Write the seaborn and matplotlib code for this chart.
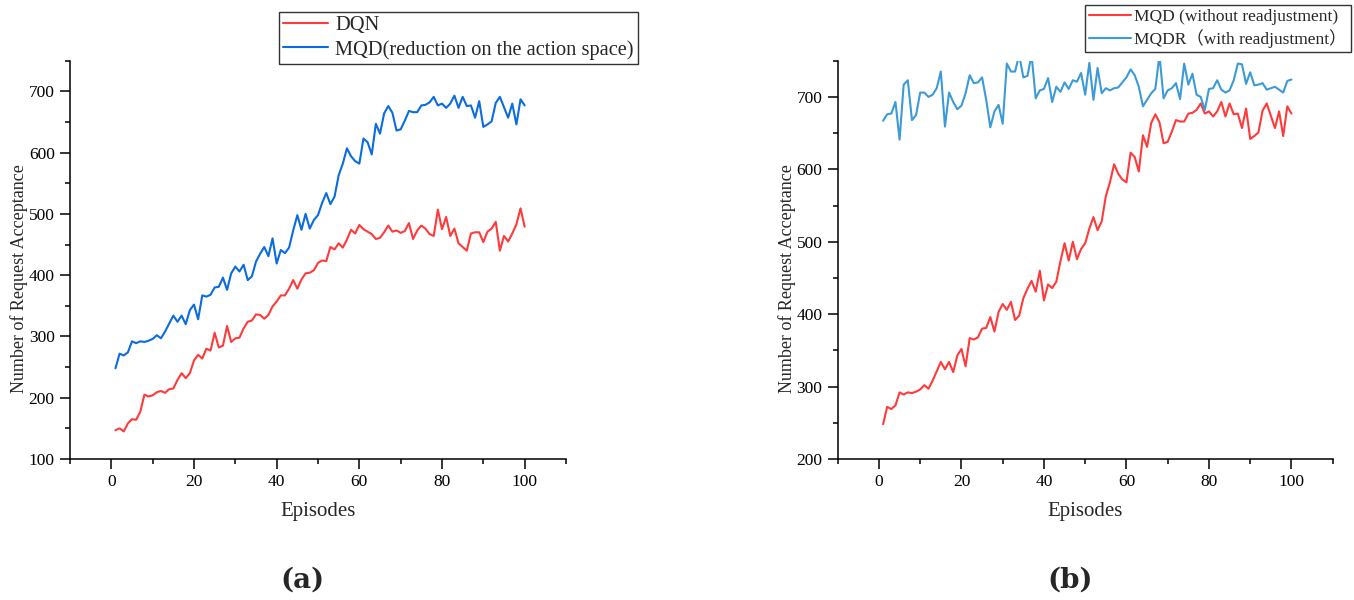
import numpy as np
import pandas as pd
import matplotlib
matplotlib.use("Agg")
import matplotlib.pyplot as plt
from matplotlib.ticker import MultipleLocator
import seaborn as sns

# ---------------- data ----------------
episodes = list(range(1, 101))

dqn = [147, 150, 145, 158, 165, 164, 177, 205, 202, 204,
       209, 211, 208, 214, 215, 229, 240, 232, 240, 261,
       270, 264, 280, 277, 306, 282, 285, 317, 291, 297,
       298, 313, 324, 326, 336, 335, 329, 335, 349, 357,
       367, 367, 378, 392, 378, 393, 403, 404, 408, 420,
       424, 423, 446, 442, 452, 445, 458, 474, 468, 482,
       475, 471, 467, 459, 461, 470, 481, 471, 473, 469,
       472, 485, 459, 473, 481, 476, 467, 464, 507, 475,
       495, 464, 476, 452, 446, 440, 468, 470, 470, 454,
       471, 476, 487, 440, 464, 455, 468, 483, 509, 479]

mqd = [248, 272, 269, 274, 292, 289, 292, 291, 293, 296,
       302, 297, 308, 321, 334, 324, 334, 320, 343, 352,
       328, 367, 365, 368, 380, 381, 396, 376, 403, 414,
       406, 417, 392, 398, 422, 435, 446, 431, 460, 419,
       441, 436, 445, 473, 498, 474, 500, 476, 490, 498,
       518, 534, 516, 528, 563, 582, 607, 594, 586, 582,
       623, 617, 597, 647, 631, 664, 676, 665, 636, 638,
       652, 668, 666, 666, 677, 678, 682, 691, 677, 680,
       673, 680, 693, 673, 691, 676, 677, 657, 684, 642,
       646, 651, 681, 691, 674, 657, 680, 646, 687, 677]

mqdr = [667, 676, 677, 693, 641, 717, 723, 668, 675, 706,
        706, 700, 703, 712, 735, 659, 706, 693, 683, 688,
        705, 730, 719, 720, 727, 696, 658, 680, 689, 663,
        746, 735, 735, 758, 727, 729, 758, 698, 709, 711,
        726, 693, 714, 707, 720, 711, 723, 721, 733, 703,
        747, 696, 740, 705, 712, 709, 712, 713, 720, 727,
        738, 730, 714, 687, 696, 705, 711, 758, 698, 709,
        712, 719, 697, 746, 717, 732, 703, 700, 682, 711,
        712, 723, 710, 706, 709, 723, 746, 745, 718, 734,
        716, 717, 719, 710, 712, 714, 710, 706, 722, 724]

labels_a = ["DQN", "MQD(reduction on the action space)"]
labels_b = ["MQD (without readjustment)", "MQDR\uff08with readjustment\uff09"]
xlabel = "Episodes"
ylabel = "Number of Request Acceptance"
panel_labels = ["(a)", "(b)"]

RED = "#FF3A3A"
BLUE_A = "#0A6CDE"
BLUE_B = "#3C9BD6"

# ---------------- style ----------------
sns.set_theme(style="ticks")
plt.rcParams["font.family"] = ["Liberation Serif", "Noto Sans CJK SC", "DejaVu Sans"]
plt.rcParams["axes.linewidth"] = 1.1
for k in ("xtick.major.width", "ytick.major.width", "xtick.minor.width", "ytick.minor.width"):
    plt.rcParams[k] = 1.1
plt.rcParams["xtick.color"] = "black"
plt.rcParams["ytick.color"] = "black"
plt.rcParams["axes.edgecolor"] = "black"

W, H = 1354, 600
fig = plt.figure(figsize=(W / 100, H / 100), dpi=100)

def frac_axes(x0, x1, ytop, ybot):
    return fig.add_axes([x0 / W, 1 - ybot / H, (x1 - x0) / W, (ybot - ytop) / H])

ax1 = frac_axes(70, 566, 60.7, 459)
ax2 = frac_axes(837.7, 1332.7, 60.7, 459)

dfa = pd.DataFrame({"Episode": episodes * 2,
                    "Value": dqn + mqd,
                    "Method": [labels_a[0]] * 100 + [labels_a[1]] * 100})
dfb = pd.DataFrame({"Episode": episodes * 2,
                    "Value": mqd + mqdr,
                    "Method": [labels_b[0]] * 100 + [labels_b[1]] * 100})

sns.lineplot(data=dfa, x="Episode", y="Value", hue="Method",
             palette=[RED, BLUE_A], linewidth=1.5, ax=ax1)
sns.lineplot(data=dfb, x="Episode", y="Value", hue="Method",
             palette=[RED, BLUE_B], linewidth=1.5, ax=ax2)

for ax, ylo in ((ax1, 100), (ax2, 200)):
    ax.set_xlim(-10, 110)
    ax.set_ylim(ylo, 750)
    ax.xaxis.set_major_locator(MultipleLocator(20))
    ax.xaxis.set_minor_locator(MultipleLocator(10))
    ax.yaxis.set_major_locator(MultipleLocator(100))
    ax.yaxis.set_minor_locator(MultipleLocator(50))
    ax.set_yticks([t for t in range(ylo, 701, 100)])
    ax.tick_params(which="major", direction="out", length=7, labelsize=12.5, pad=4)
    ax.tick_params(which="minor", direction="out", length=3.5)
    sns.despine(ax=ax)
    ax.set_xlabel(xlabel, fontsize=15)
    ax.set_ylabel(ylabel, fontsize=13)
    ax.yaxis.set_label_coords(-0.085, 0.452)
    ax.xaxis.set_label_coords(0.5, -0.108)

leg1 = ax1.legend(loc="upper left", bbox_to_anchor=(279 / W, 1 - 12 / H),
                  bbox_transform=fig.transFigure, borderaxespad=0,
                  fontsize=14.7, frameon=True, fancybox=False, framealpha=1,
                  edgecolor="#333333", handlelength=2.2, handletextpad=0.35,
                  labelspacing=0.22, borderpad=0.2)
leg2 = ax2.legend(loc="upper left", bbox_to_anchor=(1085 / W, 1 - 5 / H),
                  bbox_transform=fig.transFigure, borderaxespad=0,
                  fontsize=12.5, frameon=True, fancybox=False, framealpha=1,
                  edgecolor="#333333", handlelength=2.4, handletextpad=0.2,
                  labelspacing=0.2, borderpad=0.25)
for leg in (leg1, leg2):
    leg.get_frame().set_linewidth(1.0)
    leg.set_title(None)

fig.text(302 / W, 1 - 580 / H, panel_labels[0], ha="center", va="center",
         fontsize=20, fontweight="bold", family=["DejaVu Serif"])
fig.text(1070 / W, 1 - 580 / H, panel_labels[1], ha="center", va="center",
         fontsize=20, fontweight="bold", family=["DejaVu Serif"])

fig.savefig("out.png", dpi=100)
